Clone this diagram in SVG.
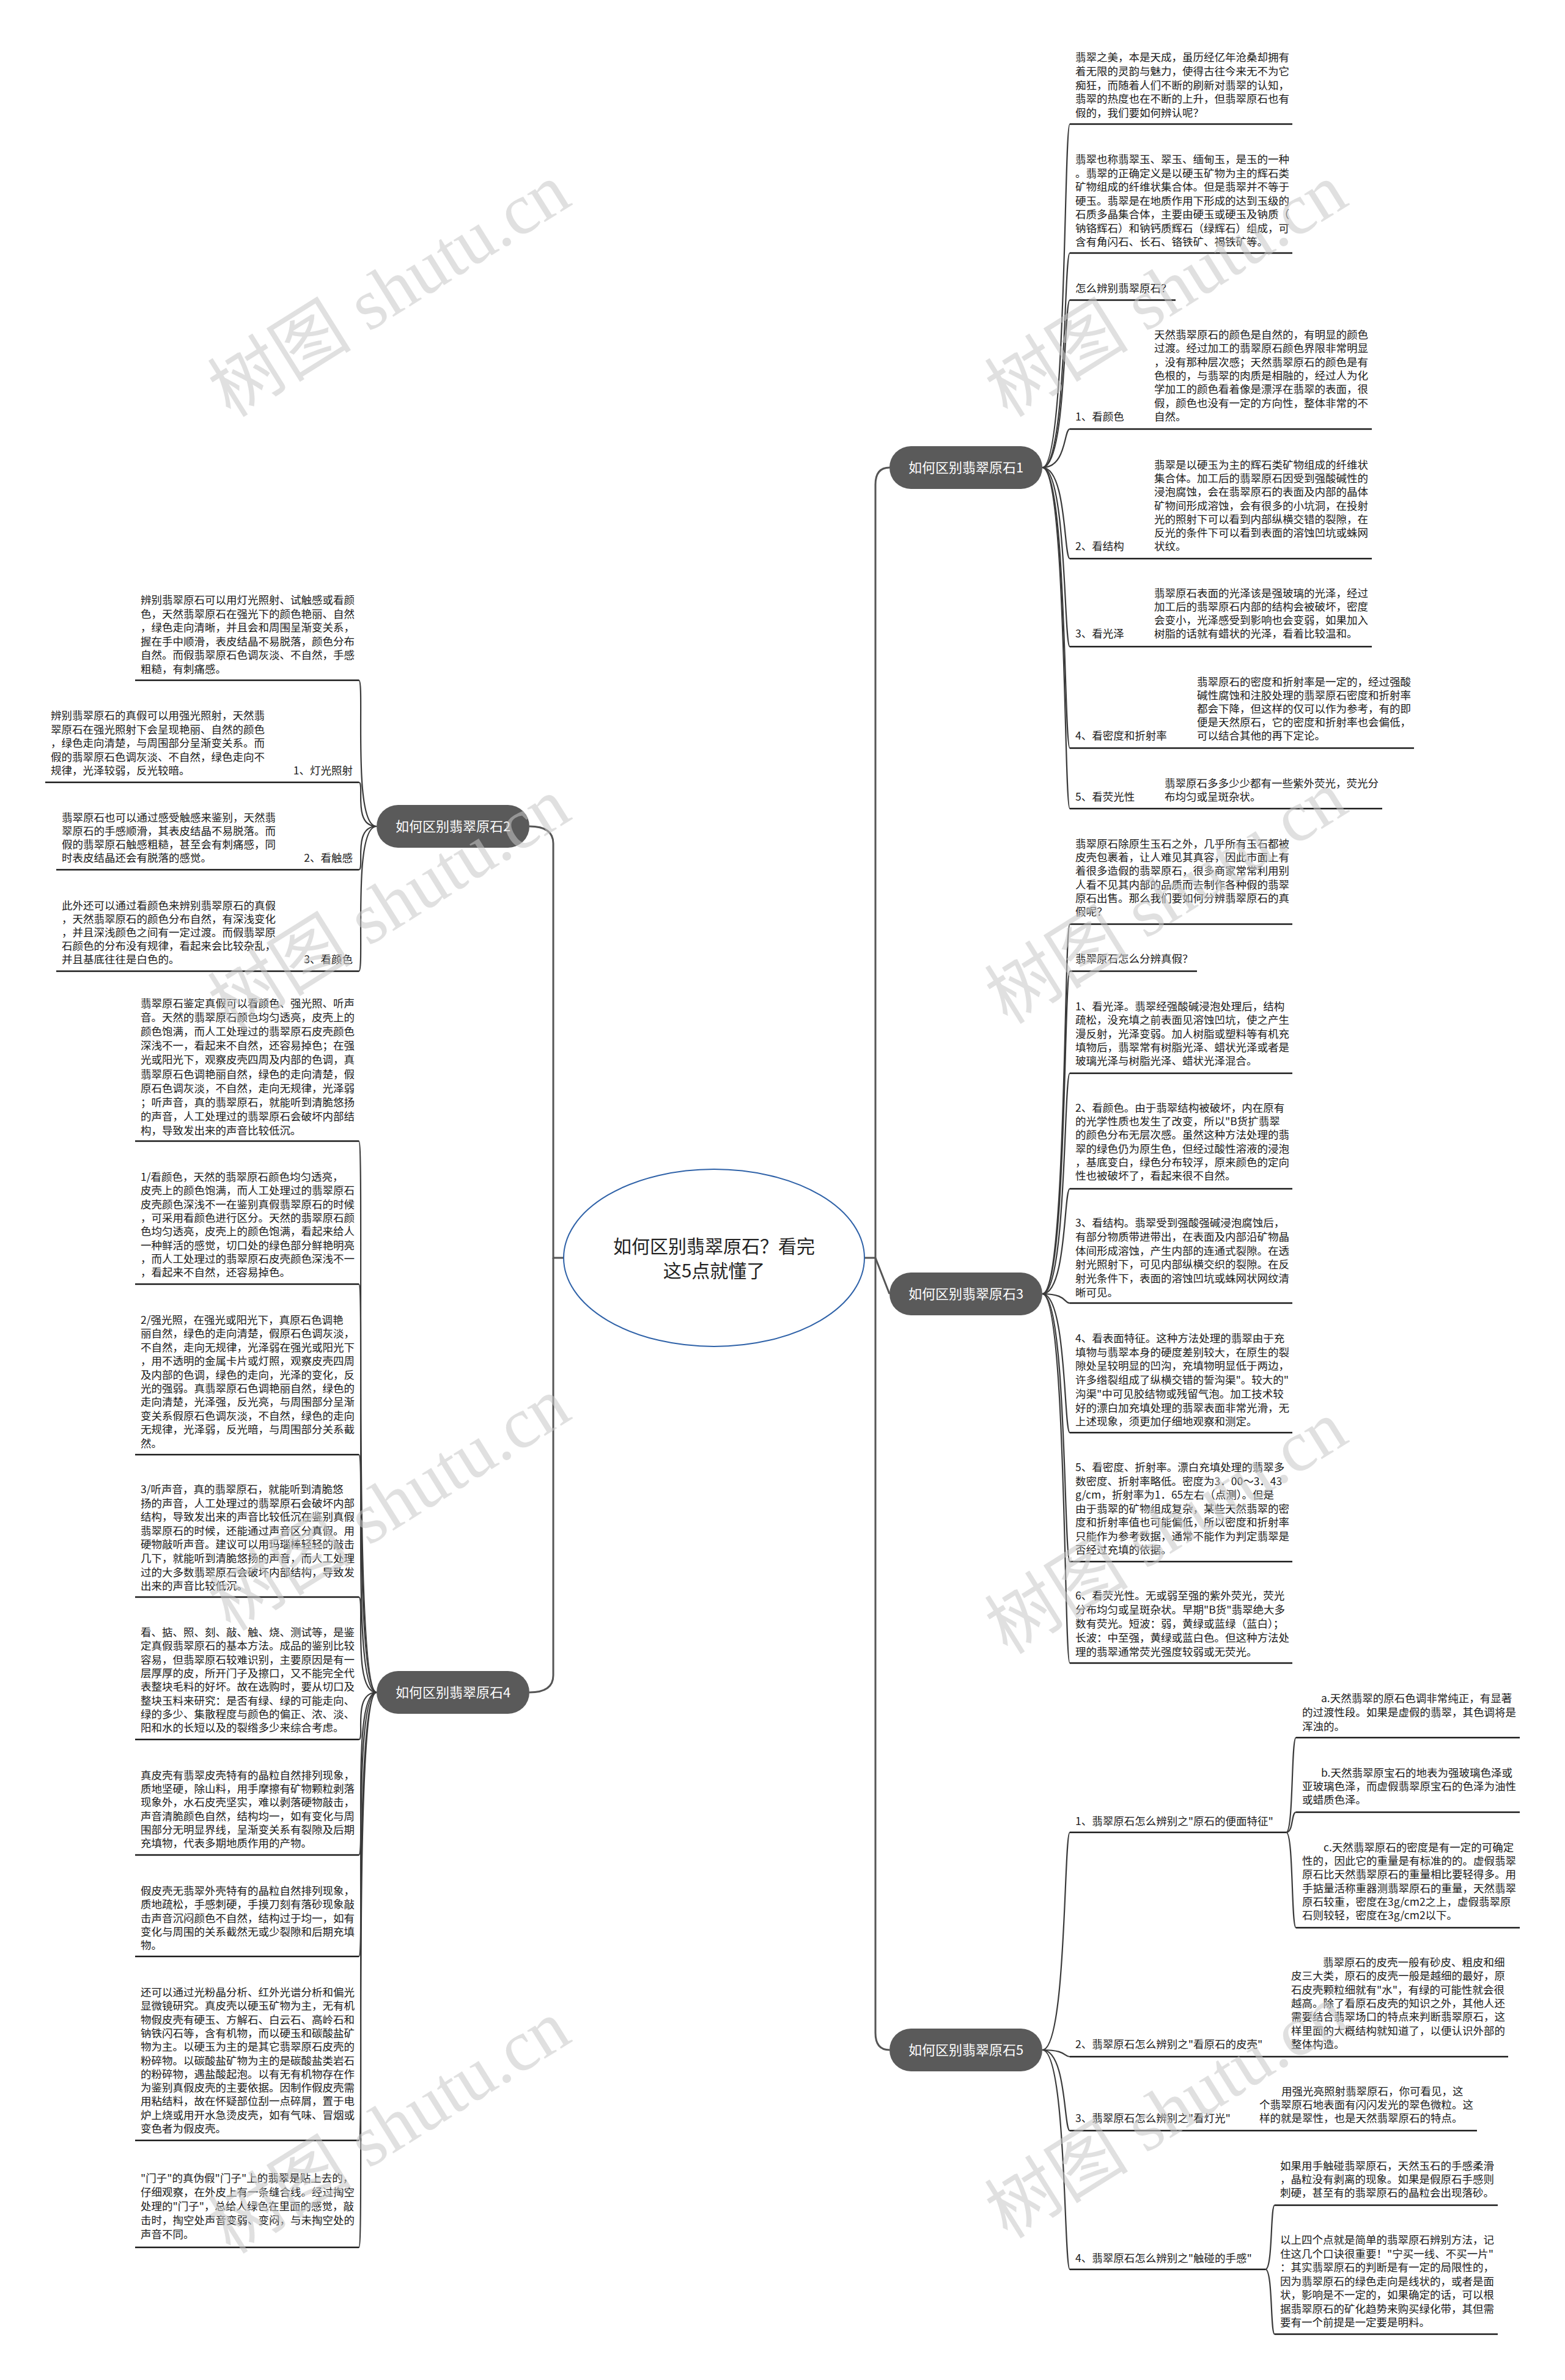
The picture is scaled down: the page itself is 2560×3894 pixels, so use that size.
<svg xmlns="http://www.w3.org/2000/svg" width="2560" height="3894" viewBox="0 0 2560 3894">
<style>
.t{font-family:"Noto Sans CJK SC","Liberation Sans",sans-serif;font-size:17.5px;fill:#1a1a1a}
.e{text-anchor:end}
.n{font-family:"Noto Sans CJK SC","Liberation Sans",sans-serif;font-size:22px;fill:#ffffff;text-anchor:middle}
.title{font-family:"Noto Sans CJK SC","Liberation Sans",sans-serif;font-size:30px;fill:#222;text-anchor:middle}
.ul{stroke:#1a1a1a;stroke-width:2.6;fill:none}
.c{stroke:#3a3a3a;stroke-width:2.2;fill:none}
.m{stroke:#555;stroke-width:3;fill:none}
.pill{fill:#5a5a5a}
.wm{font-family:"Liberation Serif","Noto Sans CJK SC",serif;font-size:118px;fill:#c8c8c8;opacity:0.55;text-anchor:middle}
</style>
<rect width="2560" height="3894" fill="#ffffff"/>

<g id="connectors">
<path class="m" d="M922,2058 H905 V1380 Q905,1352 866,1352"/>
<path class="m" d="M905,2058 V2741 Q905,2769 866,2769"/>
<path class="m" d="M1414,2058 H1432 V793 Q1432,765 1455,765"/>
<path class="m" d="M1432,2058 L1455,2117"/>
<path class="m" d="M1432,2058 V3326 Q1432,3354 1455,3354"/>
<!-- node1 children -->
<path class="c" d="M1705,765 C1745,765 1740,203 1750,203"/>
<path class="c" d="M1705,765 C1745,765 1740,414 1750,414"/>
<path class="c" d="M1705,765 C1745,765 1740,491 1750,491"/>
<path class="c" d="M1705,765 C1745,765 1740,702 1750,702"/>
<path class="c" d="M1705,765 C1745,765 1740,914 1750,914"/>
<path class="c" d="M1705,765 C1745,765 1740,1058 1750,1058"/>
<path class="c" d="M1705,765 C1745,765 1740,1224 1750,1224"/>
<path class="c" d="M1705,765 C1745,765 1740,1323 1750,1323"/>
<!-- node3 children -->
<path class="c" d="M1705,2117 C1745,2117 1740,1512 1750,1512"/>
<path class="c" d="M1705,2117 C1745,2117 1740,1589 1750,1589"/>
<path class="c" d="M1705,2117 C1745,2117 1740,1756 1750,1756"/>
<path class="c" d="M1705,2117 C1745,2117 1740,1945 1750,1945"/>
<path class="c" d="M1705,2117 C1745,2117 1740,2132 1750,2132"/>
<path class="c" d="M1705,2117 C1745,2117 1740,2344 1750,2344"/>
<path class="c" d="M1705,2117 C1745,2117 1740,2555 1750,2555"/>
<path class="c" d="M1705,2117 C1745,2117 1740,2721 1750,2721"/>
<!-- node5 children -->
<path class="c" d="M1705,3354 C1745,3354 1740,2998 1750,2998"/>
<path class="c" d="M1705,3354 C1745,3354 1740,3365 1750,3365"/>
<path class="c" d="M1705,3354 C1745,3354 1740,3486 1750,3486"/>
<path class="c" d="M1705,3354 C1745,3354 1740,3713 1750,3713"/>
<path class="c" d="M2104,2998 C2116,2998 2112,2843 2120,2843"/>
<path class="c" d="M2104,2998 C2116,2998 2112,2965 2120,2965"/>
<path class="c" d="M2104,2998 C2116,2998 2112,3154 2120,3154"/>
<path class="c" d="M2070,3713 C2082,3713 2078,3608 2085,3608"/>
<path class="c" d="M2070,3713 C2082,3713 2078,3819 2085,3819"/>
<!-- node2 children -->
<path class="c" d="M616,1352 C576,1352 597,1113 587,1113"/>
<path class="c" d="M616,1352 C576,1352 597,1280 587,1280"/>
<path class="c" d="M616,1352 C576,1352 597,1423 587,1423"/>
<path class="c" d="M616,1352 C576,1352 597,1589 587,1589"/>
<!-- node4 children -->
<path class="c" d="M616,2769 C576,2769 597,1867 587,1867"/>
<path class="c" d="M616,2769 C576,2769 597,2101 587,2101"/>
<path class="c" d="M616,2769 C576,2769 597,2380 587,2380"/>
<path class="c" d="M616,2769 C576,2769 597,2613 587,2613"/>
<path class="c" d="M616,2769 C576,2769 597,2846 587,2846"/>
<path class="c" d="M616,2769 C576,2769 597,3035 587,3035"/>
<path class="c" d="M616,2769 C576,2769 597,3201 587,3201"/>
<path class="c" d="M616,2769 C576,2769 597,3502 587,3502"/>
<path class="c" d="M616,2769 C576,2769 597,3677 587,3677"/>
</g>

<g id="center">
<ellipse cx="1168" cy="2058" rx="246" ry="145" fill="#ffffff" stroke="#2f62a8" stroke-width="2"/>
<text class="title" x="1168" y="2050">如何区别翡翠原石？看完</text>
<text class="title" x="1168" y="2090">这5点就懂了</text>
</g>

<g id="node1"><rect class="pill" x="1455" y="730" width="250" height="70" rx="35"/><text class="n" x="1580" y="773">如何区别翡翠原石1</text></g>
<g id="node3"><rect class="pill" x="1455" y="2082" width="250" height="70" rx="35"/><text class="n" x="1580" y="2125">如何区别翡翠原石3</text></g>
<g id="node5"><rect class="pill" x="1455" y="3319" width="250" height="70" rx="35"/><text class="n" x="1580" y="3362">如何区别翡翠原石5</text></g>
<g id="node2"><rect class="pill" x="616" y="1317" width="250" height="70" rx="35"/><text class="n" x="741" y="1360">如何区别翡翠原石2</text></g>
<g id="node4"><rect class="pill" x="616" y="2734" width="250" height="70" rx="35"/><text class="n" x="741" y="2777">如何区别翡翠原石4</text></g>

<!-- node 1 children -->
<g id="r1a"><text class="t" x="1759" y="100"><tspan x="1759">翡翠之美，本是天成，虽历经亿年沧桑却拥有</tspan><tspan x="1759" dy="22.75">着无限的灵韵与魅力，使得古往今来无不为它</tspan><tspan x="1759" dy="22.75">痴狂，而随着人们不断的刷新对翡翠的认知，</tspan><tspan x="1759" dy="22.75">翡翠的热度也在不断的上升，但翡翠原石也有</tspan><tspan x="1759" dy="22.75">假的，我们要如何辨认呢？</tspan></text><path class="ul" d="M1750,203 H2114"/></g>
<g id="r1b"><text class="t" x="1759" y="267"><tspan x="1759">翡翠也称翡翠玉、翠玉、缅甸玉，是玉的一种</tspan><tspan x="1759" dy="22.5">。翡翠的正确定义是以硬玉矿物为主的辉石类</tspan><tspan x="1759" dy="22.5">矿物组成的纤维状集合体。但是翡翠并不等于</tspan><tspan x="1759" dy="22.5">硬玉。翡翠是在地质作用下形成的达到玉级的</tspan><tspan x="1759" dy="22.5">石质多晶集合体，主要由硬玉或硬玉及钠质（</tspan><tspan x="1759" dy="22.5">钠铬辉石）和钠钙质辉石（绿辉石）组成，可</tspan><tspan x="1759" dy="22.5">含有角闪石、长石、铬铁矿、褐铁矿等。</tspan></text><path class="ul" d="M1750,414 H2114"/></g>
<g id="r1c"><text class="t" x="1759" y="478">怎么辨别翡翠原石？</text><path class="ul" d="M1750,491 H1923"/></g>
<g id="r1d"><text class="t" x="1759" y="688">1、看颜色</text><text class="t" x="1888" y="554"><tspan x="1888">天然翡翠原石的颜色是自然的，有明显的颜色</tspan><tspan x="1888" dy="22.33">过渡。经过加工的翡翠原石颜色界限非常明显</tspan><tspan x="1888" dy="22.33">，没有那种层次感；天然翡翠原石的颜色是有</tspan><tspan x="1888" dy="22.33">色根的，与翡翠的肉质是相融的，经过人为化</tspan><tspan x="1888" dy="22.33">学加工的颜色看着像是漂浮在翡翠的表面，很</tspan><tspan x="1888" dy="22.33">假，颜色也没有一定的方向性，整体非常的不</tspan><tspan x="1888" dy="22.33">自然。</tspan></text><path class="ul" d="M1750,702 H2244"/></g>
<g id="r1e"><text class="t" x="1759" y="900">2、看结构</text><text class="t" x="1888" y="767"><tspan x="1888">翡翠是以硬玉为主的辉石类矿物组成的纤维状</tspan><tspan x="1888" dy="22.2">集合体。加工后的翡翠原石因受到强酸碱性的</tspan><tspan x="1888" dy="22.2">浸泡腐蚀，会在翡翠原石的表面及内部的晶体</tspan><tspan x="1888" dy="22.2">矿物间形成溶蚀，会有很多的小坑洞，在投射</tspan><tspan x="1888" dy="22.2">光的照射下可以看到内部纵横交错的裂隙，在</tspan><tspan x="1888" dy="22.2">反光的条件下可以看到表面的溶蚀凹坑或蛛网</tspan><tspan x="1888" dy="22.2">状纹。</tspan></text><path class="ul" d="M1750,914 H2244"/></g>
<g id="r1f"><text class="t" x="1759" y="1043">3、看光泽</text><text class="t" x="1888" y="977"><tspan x="1888">翡翠原石表面的光泽该是强玻璃的光泽，经过</tspan><tspan x="1888" dy="22">加工后的翡翠原石内部的结构会被破坏，密度</tspan><tspan x="1888" dy="22">会变小，光泽感受到影响也会变弱，如果加入</tspan><tspan x="1888" dy="22">树脂的话就有蜡状的光泽，看着比较温和。</tspan></text><path class="ul" d="M1750,1058 H2244"/></g>
<g id="r1g"><text class="t" x="1759" y="1210">4、看密度和折射率</text><text class="t" x="1958" y="1122"><tspan x="1958">翡翠原石的密度和折射率是一定的，经过强酸</tspan><tspan x="1958" dy="22">碱性腐蚀和注胶处理的翡翠原石密度和折射率</tspan><tspan x="1958" dy="22">都会下降，但这样的仅可以作为参考，有的即</tspan><tspan x="1958" dy="22">便是天然原石，它的密度和折射率也会偏低，</tspan><tspan x="1958" dy="22">可以结合其他的再下定论。</tspan></text><path class="ul" d="M1750,1224 H2313"/></g>
<g id="r1h"><text class="t" x="1759" y="1310">5、看荧光性</text><text class="t" x="1905" y="1288"><tspan x="1905">翡翠原石多多少少都有一些紫外荧光，荧光分</tspan><tspan x="1905" dy="22">布均匀或呈斑杂状。</tspan></text><path class="ul" d="M1750,1323 H2261"/></g>

<!-- node 3 children -->
<g id="r3a"><text class="t" x="1759" y="1387"><tspan x="1759">翡翠原石除原生玉石之外，几乎所有玉石都被</tspan><tspan x="1759" dy="22.2">皮壳包裹着，让人难见其真容，因此市面上有</tspan><tspan x="1759" dy="22.2">着很多造假的翡翠原石，很多商家常常利用别</tspan><tspan x="1759" dy="22.2">人看不见其内部的品质而去制作各种假的翡翠</tspan><tspan x="1759" dy="22.2">原石出售。那么我们要如何分辨翡翠原石的真</tspan><tspan x="1759" dy="22.2">假呢？</tspan></text><path class="ul" d="M1750,1512 H2114"/></g>
<g id="r3b"><text class="t" x="1759" y="1575">翡翠原石怎么分辨真假？</text><path class="ul" d="M1750,1589 H1958"/></g>
<g id="r3c"><text class="t" x="1759" y="1653"><tspan x="1759">1、看光泽。翡翠经强酸碱浸泡处理后，结构</tspan><tspan x="1759" dy="22.25">疏松，没充填之前表面见溶蚀凹坑，使之产生</tspan><tspan x="1759" dy="22.25">漫反射，光泽变弱。加人树脂或塑料等有机充</tspan><tspan x="1759" dy="22.25">填物后，翡翠常有树脂光泽、蜡状光泽或者是</tspan><tspan x="1759" dy="22.25">玻璃光泽与树脂光泽、蜡状光泽混合。</tspan></text><path class="ul" d="M1750,1756 H2114"/></g>
<g id="r3d"><text class="t" x="1759" y="1819"><tspan x="1759">2、看颜色。由于翡翠结构被破坏，内在原有</tspan><tspan x="1759" dy="22.2">的光学性质也发生了改变，所以"B货扩翡翠</tspan><tspan x="1759" dy="22.2">的颜色分布无层次感。虽然这种方法处理的翡</tspan><tspan x="1759" dy="22.2">翠的绿色仍为原生色，但经过酸性溶液的浸泡</tspan><tspan x="1759" dy="22.2">，基底变白，绿色分布较浮，原来颜色的定向</tspan><tspan x="1759" dy="22.2">性也被破坏了，看起来很不自然。</tspan></text><path class="ul" d="M1750,1945 H2114"/></g>
<g id="r3e"><text class="t" x="1759" y="2007"><tspan x="1759">3、看结构。翡翠受到强酸强碱浸泡腐蚀后，</tspan><tspan x="1759" dy="22.8">有部分物质带进带出，在表面及内部沿矿物晶</tspan><tspan x="1759" dy="22.8">体间形成溶蚀，产生内部的连通式裂隙。在透</tspan><tspan x="1759" dy="22.8">射光照射下，可见内部纵横交织的裂隙。在反</tspan><tspan x="1759" dy="22.8">射光条件下，表面的溶蚀凹坑或蛛网状网纹清</tspan><tspan x="1759" dy="22.8">晰可见。</tspan></text><path class="ul" d="M1750,2132 H2114"/></g>
<g id="r3f"><text class="t" x="1759" y="2196"><tspan x="1759">4、看表面特征。这种方法处理的翡翠由于充</tspan><tspan x="1759" dy="22.7">填物与翡翠本身的硬度差别较大，在原生的裂</tspan><tspan x="1759" dy="22.7">隙处呈较明显的凹沟，充填物明显低于两边，</tspan><tspan x="1759" dy="22.7">许多绺裂组成了纵横交错的誓沟渠"。较大的"</tspan><tspan x="1759" dy="22.7">沟渠"中可见胶结物或残留气泡。加工技术较</tspan><tspan x="1759" dy="22.7">好的漂白加充填处理的翡翠表面非常光滑，无</tspan><tspan x="1759" dy="22.7">上述现象，须更加仔细地观察和测定。</tspan></text><path class="ul" d="M1750,2344 H2114"/></g>
<g id="r3g"><text class="t" x="1759" y="2407"><tspan x="1759">5、看密度、折射率。漂白充填处理的翡翠多</tspan><tspan x="1759" dy="22.5">数密度、折射率略低。密度为3．00～3．43</tspan><tspan x="1759" dy="22.5">g/cm，折射率为1．65左右（点测）。但是</tspan><tspan x="1759" dy="22.5">由于翡翠的矿物组成复杂，某些天然翡翠的密</tspan><tspan x="1759" dy="22.5">度和折射率值也可能偏低，所以密度和折射率</tspan><tspan x="1759" dy="22.5">只能作为参考数据，通常不能作为判定翡翠是</tspan><tspan x="1759" dy="22.5">否经过充填的依据。</tspan></text><path class="ul" d="M1750,2555 H2114"/></g>
<g id="r3h"><text class="t" x="1759" y="2617"><tspan x="1759">6、看荧光性。无或弱至强的紫外荧光，荧光</tspan><tspan x="1759" dy="23">分布均匀或呈斑杂状。早期"B货"翡翠绝大多</tspan><tspan x="1759" dy="23">数有荧光。短波：弱，黄绿或蓝绿（蓝白）；</tspan><tspan x="1759" dy="23">长波：中至强，黄绿或蓝白色。但这种方法处</tspan><tspan x="1759" dy="23">理的翡翠通常荧光强度较弱或无荧光。</tspan></text><path class="ul" d="M1750,2721 H2114"/></g>

<!-- node 5 children -->
<g id="r5-1"><text class="t" x="1759" y="2986">1、翡翠原石怎么辨别之"原石的便面特征"</text><path class="ul" d="M1750,2998 H2104"/></g>
<g id="r5-1a"><text class="t" x="2161" y="2785"><tspan x="2161">a.天然翡翠的原石色调非常纯正，有显著</tspan><tspan x="2130" dy="23">的过渡性段。如果是虚假的翡翠，其色调将是</tspan><tspan x="2130" dy="23">浑浊的。</tspan></text><path class="ul" d="M2120,2843 H2486"/></g>
<g id="r5-1b"><text class="t" x="2161" y="2907"><tspan x="2161">b.天然翡翠原宝石的地表为强玻璃色泽或</tspan><tspan x="2130" dy="22">亚玻璃色泽，而虚假翡翠原宝石的色泽为油性</tspan><tspan x="2130" dy="22">或蜡质色泽。</tspan></text><path class="ul" d="M2120,2965 H2486"/></g>
<g id="r5-1c"><text class="t" x="2165" y="3029"><tspan x="2165">c.天然翡翠原石的密度是有一定的可确定</tspan><tspan x="2130" dy="22.2">性的，因此它的重量是有标准的的。虚假翡翠</tspan><tspan x="2130" dy="22.2">原石比天然翡翠原石的重量相比要轻得多。用</tspan><tspan x="2130" dy="22.2">手掂量活称重器测翡翠原石的重量，天然翡翠</tspan><tspan x="2130" dy="22.2">原石较重，密度在3g/cm2之上，虚假翡翠原</tspan><tspan x="2130" dy="22.2">石则较轻，密度在3g/cm2以下。</tspan></text><path class="ul" d="M2120,3154 H2486"/></g>
<g id="r5-2"><text class="t" x="1759" y="3351">2、翡翠原石怎么辨别之"看原石的皮壳"</text><text class="t" x="2164" y="3217"><tspan x="2164">翡翠原石的皮壳一般有砂皮、粗皮和细</tspan><tspan x="2112" dy="22.3">皮三大类，原石的皮壳一般是越细的最好，原</tspan><tspan x="2112" dy="22.3">石皮壳颗粒细就有"水"，有绿的可能性就会很</tspan><tspan x="2112" dy="22.3">越高。除了看原石皮壳的知识之外，其他人还</tspan><tspan x="2112" dy="22.3">需要结合翡翠场口的特点来判断翡翠原石，这</tspan><tspan x="2112" dy="22.3">样里面的大概结构就知道了，以便认识外部的</tspan><tspan x="2112" dy="22.3">整体构造。</tspan></text><path class="ul" d="M1750,3365 H2467"/></g>
<g id="r5-3"><text class="t" x="1759" y="3472">3、翡翠原石怎么辨别之"看灯光"</text><text class="t" x="2096" y="3428"><tspan x="2096">用强光亮照射翡翠原石，你可看见，这</tspan><tspan x="2060" dy="22">个翡翠原石地表面有闪闪发光的翠色微粒。这</tspan><tspan x="2060" dy="22">样的就是翠性，也是天然翡翠原石的特点。</tspan></text><path class="ul" d="M1750,3486 H2416"/></g>
<g id="r5-4"><text class="t" x="1759" y="3701">4、翡翠原石怎么辨别之"触碰的手感"</text><path class="ul" d="M1750,3713 H2070"/></g>
<g id="r5-4a"><text class="t" x="2094" y="3550"><tspan x="2094">如果用手触碰翡翠原石，天然玉石的手感柔滑</tspan><tspan x="2094" dy="22">，晶粒没有剥离的现象。如果是假原石手感则</tspan><tspan x="2094" dy="22">刺硬，甚至有的翡翠原石的晶粒会出现落砂。</tspan></text><path class="ul" d="M2085,3608 H2450"/></g>
<g id="r5-4b"><text class="t" x="2094" y="3671"><tspan x="2094">以上四个点就是简单的翡翠原石辨别方法，记</tspan><tspan x="2094" dy="22.5">住这几个口诀很重要！"宁买一线、不买一片"</tspan><tspan x="2094" dy="22.5">：其实翡翠原石的判断是有一定的局限性的，</tspan><tspan x="2094" dy="22.5">因为翡翠原石的绿色走向是线状的，或者是面</tspan><tspan x="2094" dy="22.5">状，影响是不一定的，如果确定的话，可以根</tspan><tspan x="2094" dy="22.5">据翡翠原石的矿化趋势来购买绿化带，其但需</tspan><tspan x="2094" dy="22.5">要有一个前提是一定要是明料。</tspan></text><path class="ul" d="M2085,3819 H2450"/></g>

<!-- node 2 children -->
<g id="l2a"><text class="t" x="230" y="988"><tspan x="230">辨别翡翠原石可以用灯光照射、试触感或看颜</tspan><tspan x="230" dy="22.6">色，天然翡翠原石在强光下的颜色艳丽、自然</tspan><tspan x="230" dy="22.6">，绿色走向清晰，并且会和周围呈渐变关系，</tspan><tspan x="230" dy="22.6">握在手中顺滑，表皮结晶不易脱落，颜色分布</tspan><tspan x="230" dy="22.6">自然。而假翡翠原石色调灰淡、不自然，手感</tspan><tspan x="230" dy="22.6">粗糙，有刺痛感。</tspan></text><path class="ul" d="M221,1113 H587"/></g>
<g id="l2b"><text class="t e" x="577" y="1267">1、灯光照射</text><text class="t" x="83" y="1177"><tspan x="83">辨别翡翠原石的真假可以用强光照射，天然翡</tspan><tspan x="83" dy="22.5">翠原石在强光照射下会呈现艳丽、自然的颜色</tspan><tspan x="83" dy="22.5">，绿色走向清楚，与周围部分呈渐变关系。而</tspan><tspan x="83" dy="22.5">假的翡翠原石色调灰淡、不自然，绿色走向不</tspan><tspan x="83" dy="22.5">规律，光泽较弱，反光较暗。</tspan></text><path class="ul" d="M74,1280 H587"/></g>
<g id="l2c"><text class="t e" x="577" y="1410">2、看触感</text><text class="t" x="101" y="1344"><tspan x="101">翡翠原石也可以通过感受触感来鉴别，天然翡</tspan><tspan x="101" dy="22">翠原石的手感顺滑，其表皮结晶不易脱落。而</tspan><tspan x="101" dy="22">假的翡翠原石触感粗糙，甚至会有刺痛感，同</tspan><tspan x="101" dy="22">时表皮结晶还会有脱落的感觉。</tspan></text><path class="ul" d="M92,1423 H587"/></g>
<g id="l2d"><text class="t e" x="577" y="1576">3、看颜色</text><text class="t" x="101" y="1488"><tspan x="101">此外还可以通过看颜色来辨别翡翠原石的真假</tspan><tspan x="101" dy="22">，天然翡翠原石的颜色分布自然，有深浅变化</tspan><tspan x="101" dy="22">，并且深浅颜色之间有一定过渡。而假翡翠原</tspan><tspan x="101" dy="22">石颜色的分布没有规律，看起来会比较杂乱，</tspan><tspan x="101" dy="22">并且基底往往是白色的。</tspan></text><path class="ul" d="M92,1589 H587"/></g>

<!-- node 4 children -->
<g id="l4a"><text class="t" x="230" y="1648"><tspan x="230">翡翠原石鉴定真假可以看颜色、强光照、听声</tspan><tspan x="230" dy="23.1">音。天然的翡翠原石颜色均匀透亮，皮壳上的</tspan><tspan x="230" dy="23.1">颜色饱满，而人工处理过的翡翠原石皮壳颜色</tspan><tspan x="230" dy="23.1">深浅不一，看起来不自然，还容易掉色；在强</tspan><tspan x="230" dy="23.1">光或阳光下，观察皮壳四周及内部的色调，真</tspan><tspan x="230" dy="23.1">翡翠原石色调艳丽自然，绿色的走向清楚，假</tspan><tspan x="230" dy="23.1">原石色调灰淡，不自然，走向无规律，光泽弱</tspan><tspan x="230" dy="23.1">；听声音，真的翡翠原石，就能听到清脆悠扬</tspan><tspan x="230" dy="23.1">的声音，人工处理过的翡翠原石会破坏内部结</tspan><tspan x="230" dy="23.1">构，导致发出来的声音比较低沉。</tspan></text><path class="ul" d="M221,1867 H587"/></g>
<g id="l4b"><text class="t" x="230" y="1932"><tspan x="230">1/看颜色，天然的翡翠原石颜色均匀透亮，</tspan><tspan x="230" dy="22.3">皮壳上的颜色饱满，而人工处理过的翡翠原石</tspan><tspan x="230" dy="22.3">皮壳颜色深浅不一在鉴别真假翡翠原石的时候</tspan><tspan x="230" dy="22.3">，可采用看颜色进行区分。天然的翡翠原石颜</tspan><tspan x="230" dy="22.3">色均匀透亮，皮壳上的颜色饱满，看起来给人</tspan><tspan x="230" dy="22.3">一种鲜活的感觉，切口处的绿色部分鲜艳明亮</tspan><tspan x="230" dy="22.3">，而人工处理过的翡翠原石皮壳颜色深浅不一</tspan><tspan x="230" dy="22.3">，看起来不自然，还容易掉色。</tspan></text><path class="ul" d="M221,2101 H587"/></g>
<g id="l4c"><text class="t" x="230" y="2166"><tspan x="230">2/强光照，在强光或阳光下，真原石色调艳</tspan><tspan x="230" dy="22.4">丽自然，绿色的走向清楚，假原石色调灰淡，</tspan><tspan x="230" dy="22.4">不自然，走向无规律，光泽弱在强光或阳光下</tspan><tspan x="230" dy="22.4">，用不透明的金属卡片或灯照，观察皮壳四周</tspan><tspan x="230" dy="22.4">及内部的色调，绿色的走向，光泽的变化，反</tspan><tspan x="230" dy="22.4">光的强弱。真翡翠原石色调艳丽自然，绿色的</tspan><tspan x="230" dy="22.4">走向清楚，光泽强，反光亮，与周围部分呈渐</tspan><tspan x="230" dy="22.4">变关系假原石色调灰淡，不自然，绿色的走向</tspan><tspan x="230" dy="22.4">无规律，光泽弱，反光暗，与周围部分关系截</tspan><tspan x="230" dy="22.4">然。</tspan></text><path class="ul" d="M221,2380 H587"/></g>
<g id="l4d"><text class="t" x="230" y="2443"><tspan x="230">3/听声音，真的翡翠原石，就能听到清脆悠</tspan><tspan x="230" dy="22.6">扬的声音，人工处理过的翡翠原石会破坏内部</tspan><tspan x="230" dy="22.6">结构，导致发出来的声音比较低沉在鉴别真假</tspan><tspan x="230" dy="22.6">翡翠原石的时候，还能通过声音区分真假。用</tspan><tspan x="230" dy="22.6">硬物敲听声音。建议可以用玛瑙棒轻轻的敲击</tspan><tspan x="230" dy="22.6">几下，就能听到清脆悠扬的声音，而人工处理</tspan><tspan x="230" dy="22.6">过的大多数翡翠原石会破坏内部结构，导致发</tspan><tspan x="230" dy="22.6">出来的声音比较低沉。</tspan></text><path class="ul" d="M221,2613 H587"/></g>
<g id="l4e"><text class="t" x="230" y="2677"><tspan x="230">看、掂、照、刻、敲、触、烧、测试等，是鉴</tspan><tspan x="230" dy="22.3">定真假翡翠原石的基本方法。成品的鉴别比较</tspan><tspan x="230" dy="22.3">容易，但翡翠原石较难识别，主要原因是有一</tspan><tspan x="230" dy="22.3">层厚厚的皮，所开门子及擦口，又不能完全代</tspan><tspan x="230" dy="22.3">表整块毛料的好坏。故在选购时，要从切口及</tspan><tspan x="230" dy="22.3">整块玉料来研究：是否有绿、绿的可能走向、</tspan><tspan x="230" dy="22.3">绿的多少、集散程度与颜色的偏正、浓、淡、</tspan><tspan x="230" dy="22.3">阳和水的长短以及的裂绺多少来综合考虑。</tspan></text><path class="ul" d="M221,2846 H587"/></g>
<g id="l4f"><text class="t" x="230" y="2911"><tspan x="230">真皮壳有翡翠皮壳特有的晶粒自然排列现象，</tspan><tspan x="230" dy="22.2">质地坚硬，除山料，用手摩擦有矿物颗粒剥落</tspan><tspan x="230" dy="22.2">现象外，水石皮壳坚实，难以剥落硬物敲击，</tspan><tspan x="230" dy="22.2">声音清脆颜色自然，结构均一，如有变化与周</tspan><tspan x="230" dy="22.2">围部分无明显界线，呈渐变关系有裂隙及后期</tspan><tspan x="230" dy="22.2">充填物，代表多期地质作用的产物。</tspan></text><path class="ul" d="M221,3035 H587"/></g>
<g id="l4g"><text class="t" x="230" y="3100"><tspan x="230">假皮壳无翡翠外壳特有的晶粒自然排列现象，</tspan><tspan x="230" dy="22.25">质地疏松，手感刺硬，手摸刀刻有落砂现象敲</tspan><tspan x="230" dy="22.25">击声音沉闷颜色不自然，结构过于均一，如有</tspan><tspan x="230" dy="22.25">变化与周围的关系截然无或少裂隙和后期充填</tspan><tspan x="230" dy="22.25">物。</tspan></text><path class="ul" d="M221,3201 H587"/></g>
<g id="l4h"><text class="t" x="230" y="3266"><tspan x="230">还可以通过光粉晶分析、红外光谱分析和偏光</tspan><tspan x="230" dy="22.3">显微镜研究。真皮壳以硬玉矿物为主，无有机</tspan><tspan x="230" dy="22.3">物假皮壳有硬玉、方解石、白云石、高岭石和</tspan><tspan x="230" dy="22.3">钠铁闪石等，含有机物，而以硬玉和碳酸盐矿</tspan><tspan x="230" dy="22.3">物为主。以硬玉为主的是其它翡翠原石皮壳的</tspan><tspan x="230" dy="22.3">粉碎物。以碳酸盐矿物为主的是碳酸盐类岩石</tspan><tspan x="230" dy="22.3">的粉碎物，遇盐酸起泡。以有无有机物存在作</tspan><tspan x="230" dy="22.3">为鉴别真假皮壳的主要依据。因制作假皮壳需</tspan><tspan x="230" dy="22.3">用粘结料，故在怀疑部位刮一点碎屑，置于电</tspan><tspan x="230" dy="22.3">炉上烧或用开水急烫皮壳，如有气味、冒烟或</tspan><tspan x="230" dy="22.3">变色者为假皮壳。</tspan></text><path class="ul" d="M221,3502 H587"/></g>
<g id="l4i"><text class="t" x="230" y="3570"><tspan x="230">"门子"的真伪假"门子"上的翡翠是贴上去的，</tspan><tspan x="230" dy="23">仔细观察，在外皮上有一条缝合线。经过掏空</tspan><tspan x="230" dy="23">处理的"门子"，总给人绿色在里面的感觉，敲</tspan><tspan x="230" dy="23">击时，掏空处声音变弱、变闷，与未掏空处的</tspan><tspan x="230" dy="23">声音不同。</tspan></text><path class="ul" d="M221,3677 H587"/></g>

<g id="watermark">
<text class="wm" transform="translate(658,509) rotate(-32)">树图 shutu.cn</text>
<text class="wm" transform="translate(1929,509) rotate(-32)">树图 shutu.cn</text>
<text class="wm" transform="translate(658,1514) rotate(-32)">树图 shutu.cn</text>
<text class="wm" transform="translate(1929,1502) rotate(-32)">树图 shutu.cn</text>
<text class="wm" transform="translate(658,2495) rotate(-32)">树图 shutu.cn</text>
<text class="wm" transform="translate(1929,2533) rotate(-32)">树图 shutu.cn</text>
<text class="wm" transform="translate(658,3514) rotate(-32)">树图 shutu.cn</text>
<text class="wm" transform="translate(1929,3489) rotate(-32)">树图 shutu.cn</text>
</g>
</svg>
